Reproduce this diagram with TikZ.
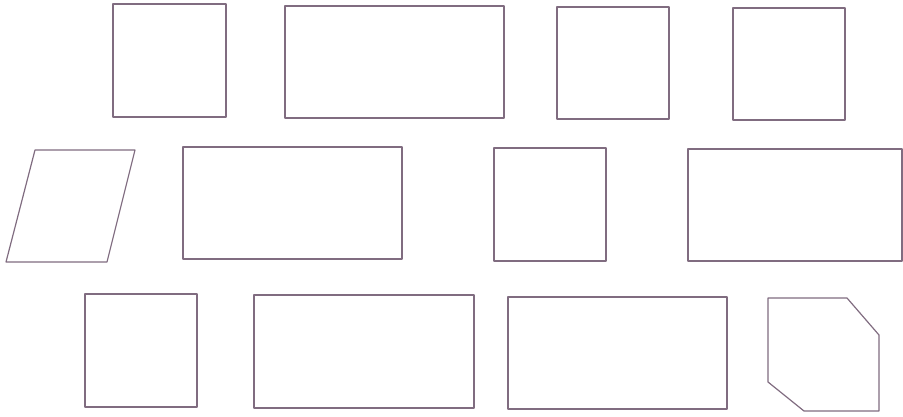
\documentclass[tikz,border=0pt]{standalone}
\usepackage{tikz}

\begin{document}
\begin{tikzpicture}[x=1pt, y=-1pt,
  fig/.style={draw=gray!85!violet, line width=1.2pt, line join=round}]
  \useasboundingbox (0,0) rectangle (903,416);
  % Top row.
  \draw[fig] (113,4) rectangle (226,117);
  \draw[fig] (285,6) rectangle (504,118);
  \draw[fig] (557,7) rectangle (669,119);
  \draw[fig] (733,8) rectangle (845,120);
  % Middle row.
  \draw[fig] (35,150) -- (135,150) -- (107,262) -- (6,262) -- cycle;
  \draw[fig] (183,147) rectangle (402,259);
  \draw[fig] (494,148) rectangle (606,261);
  \draw[fig] (688,149) rectangle (902,261);
  % Bottom row.
  \draw[fig] (85,294) rectangle (197,407);
  \draw[fig] (254,295) rectangle (474,408);
  \draw[fig] (508,297) rectangle (727,409);
  \draw[fig] (768,298) -- (847,298) -- (879,335) -- (879,411)
    -- (804,411) -- (768,382) -- cycle;
\end{tikzpicture}
\end{document}
